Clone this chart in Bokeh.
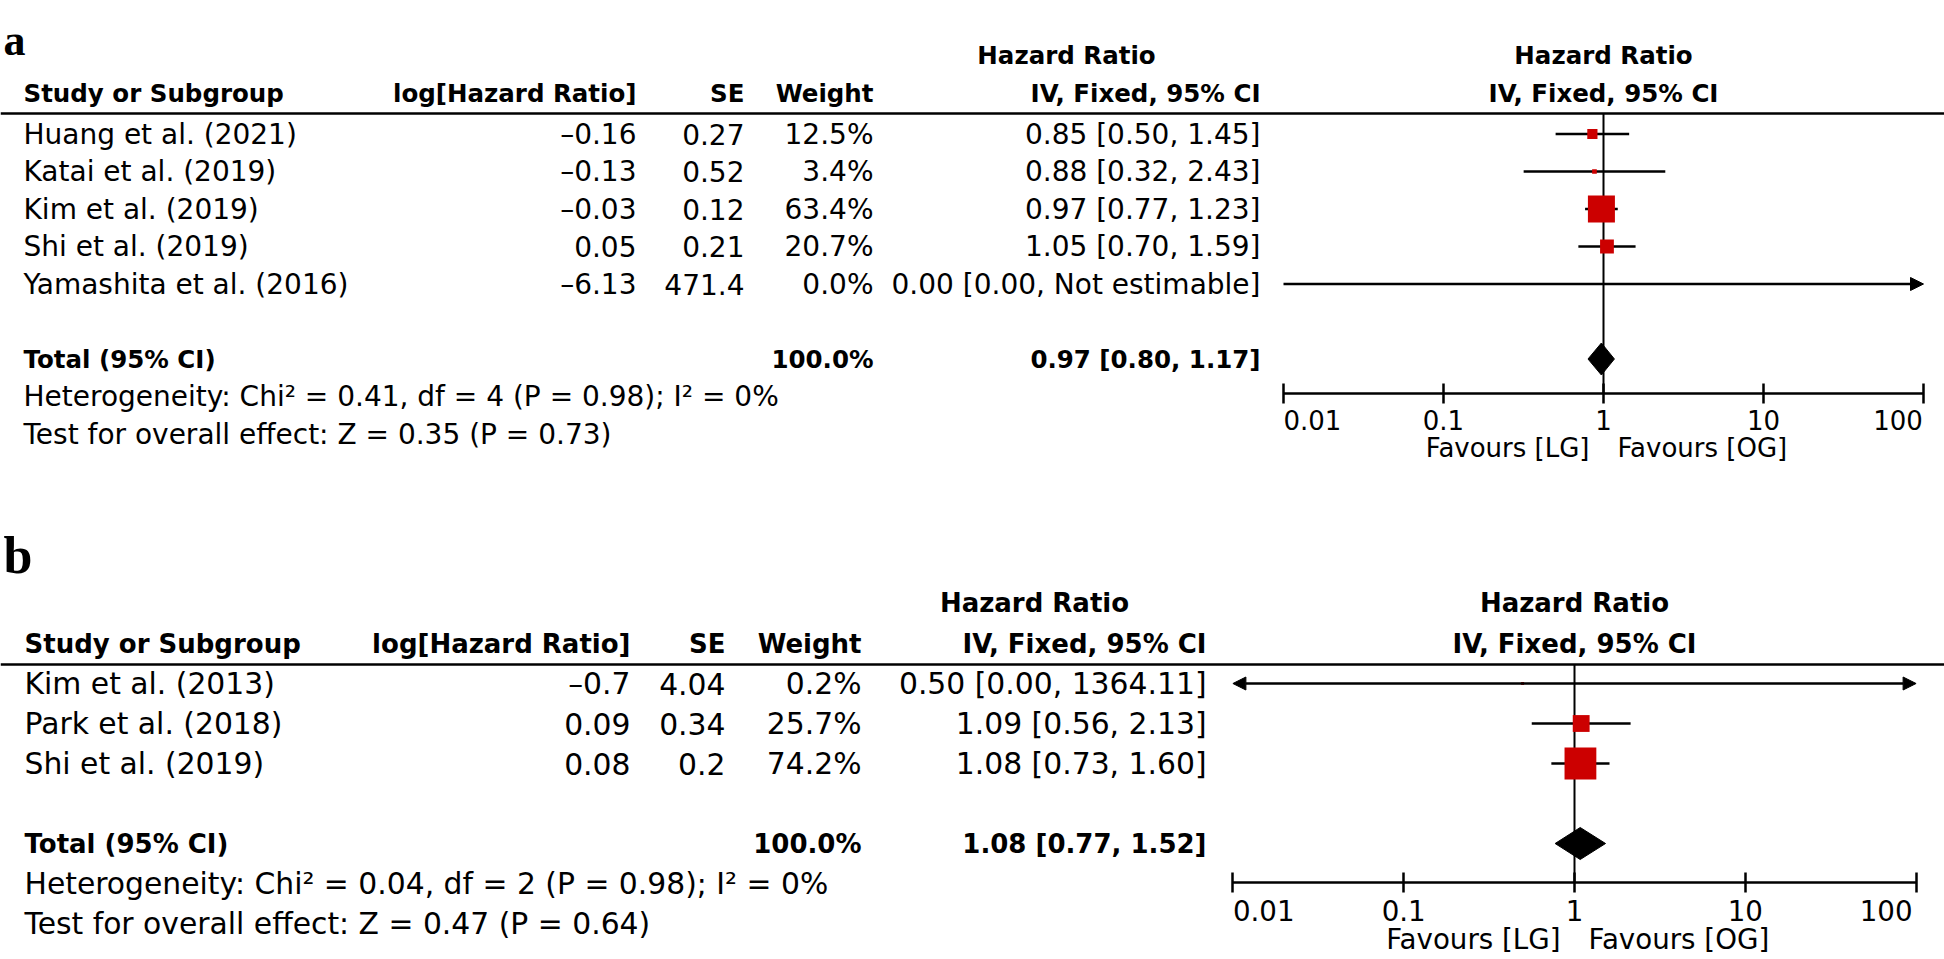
import numpy as np
from bokeh.plotting import figure
from bokeh.models import (Range1d, LogScale, LogAxis, FixedTicker, CustomJSTickFormatter,
                          Arrow, NormalHead, ColumnDataSource)
from bokeh.embed import file_html
from bokeh.resources import INLINE
from bokeh.core.properties import value

# ---------------- data: panel a ----------------
studies_a = ["Huang et al. (2021)", "Katai et al. (2019)", "Kim et al. (2019)",
             "Shi et al. (2019)", "Yamashita et al. (2016)"]
log_hr_a = [-0.16, -0.13, -0.03, 0.05, -6.13]
se_a = [0.27, 0.52, 0.12, 0.21, 471.4]
weight_a = [12.5, 3.4, 63.4, 20.7, 0.0]
hr_text_a = ["0.85 [0.50, 1.45]", "0.88 [0.32, 2.43]", "0.97 [0.77, 1.23]",
             "1.05 [0.70, 1.59]", "0.00 [0.00, Not estimable]"]
total_a = [0.97, 0.80, 1.17]          # estimate, lower, upper
total_weight_a = 100.0
het_a = "Heterogeneity: Chi² = 0.41, df = 4 (P = 0.98); I² = 0%"
effect_a = "Test for overall effect: Z = 0.35 (P = 0.73)"

# ---------------- data: panel b ----------------
studies_b = ["Kim et al. (2013)", "Park et al. (2018)", "Shi et al. (2019)"]
log_hr_b = [-0.7, 0.09, 0.08]
se_b = [4.04, 0.34, 0.2]
weight_b = [0.2, 25.7, 74.2]
hr_text_b = ["0.50 [0.00, 1364.11]", "1.09 [0.56, 2.13]", "1.08 [0.73, 1.60]"]
total_b = [1.08, 0.77, 1.52]
total_weight_b = 100.0
het_b = "Heterogeneity: Chi² = 0.04, df = 2 (P = 0.98); I² = 0%"
effect_b = "Test for overall effect: Z = 0.47 (P = 0.64)"

# ---------------- shared labels ----------------
col_headers = ["Study or Subgroup", "log[Hazard Ratio]", "SE", "Weight", "IV, Fixed, 95% CI"]
group_header = "Hazard Ratio"
total_label = "Total (95% CI)"
tick_values = [0.01, 0.1, 1, 10, 100]
tick_labels = ["0.01", "0.1", "1", "10", "100"]
favours = ["Favours [LG]", "Favours [OG]"]
panel_letters = ["a", "b"]

FONT = "DejaVu Sans"
RED = "#cc0000"
W, H = 1944, 959
X0, X1 = 0, W
Y0, Y1 = 0, H

p = figure(width=W, height=H, output_backend="svg", toolbar_location=None,
           x_range=Range1d(X0, X1), y_range=Range1d(Y1, Y0),
           x_axis_location=None, y_axis_location=None, min_border=0,
           outline_line_color=None, background_fill_color="white",
           border_fill_color="white")
p.grid.visible = False

# layout (positions / sizes only, in page pixels)
LAY_A = dict(one_x=1603, dec=160.0, row0=133.5, sp=37.5, fs=28, fs_b=24.5, fs_ax=26,
             col_study=23, col_lhr=636, col_se=744, col_w=873, col_hr=1260, hr_head_c=1066,
             head1_y=55, head2_y=93, line_y=113, axis_y=393, fav_y=447,
             letter_xy=(3, 40), letter_fs=44, diamond_half=16, box_k=2.24,
             pad_left="\u2007\u2007\u2008\u2007", pad_right="\u2007\u2009")
LAY_B = dict(one_x=1574, dec=170.8, row0=683, sp=40.0, fs=29.8, fs_b=26, fs_ax=27.7,
             col_study=24, col_lhr=630, col_se=725, col_w=861, col_hr=1206, hr_head_c=1034,
             head1_y=602, head2_y=643, line_y=664, axis_y=882, fav_y=939,
             letter_xy=(3, 555), letter_fs=52, diamond_half=16, box_k=2.4,
             pad_left="\u2007\u2007\u2008\u2007", pad_right="\u2007\u2008\u2009")


def fmt_num(v):
    return ("%g" % v).replace("-", "\u2013")


def draw_panel(tag, letter, studies, log_hr, se, weight, hr_text, total, total_w,
               het, effect, L):
    hr_name, row_name = "hr_" + tag, "rows_" + tag
    p.extra_x_ranges = {**p.extra_x_ranges,
                        hr_name: Range1d(10 ** ((X0 - L["one_x"]) / L["dec"]),
                                         10 ** ((X1 - L["one_x"]) / L["dec"]))}
    p.extra_x_scales = {**p.extra_x_scales, hr_name: LogScale()}
    p.extra_y_ranges = {**p.extra_y_ranges,
                        row_name: Range1d((Y1 - L["row0"]) / L["sp"], (Y0 - L["row0"]) / L["sp"])}

    tk = dict(text_font=value(FONT), text_font_size="%.1fpx" % L["fs"], text_color="black",
              text_baseline="middle")
    bk = dict(text_font=value(FONT), text_font_size="%.1fpx" % L["fs_b"], text_color="black",
              text_baseline="middle", text_font_style="bold")
    ak = dict(text_font=value(FONT), text_font_size="%.1fpx" % L["fs_ax"], text_color="black",
              text_baseline="middle")
    n = len(studies)
    rows = list(range(n))
    total_row = n + 1

    # panel letter
    p.text(x=[L["letter_xy"][0]], y=[L["letter_xy"][1]], text=[letter],
           text_font=value("Liberation Serif"), text_font_style="bold",
           text_font_size="%dpx" % L["letter_fs"], text_baseline="alphabetic",
           text_align="left", text_color="black")

    # headers
    p.text(x=[L["hr_head_c"]], y=[L["head1_y"]], text=[group_header], text_align="center", **bk)
    p.text(x=[1], y=[L["head1_y"]], text=[group_header], text_align="center",
           x_range_name=hr_name, **bk)
    p.text(x=[L["col_study"]], y=[L["head2_y"]], text=[col_headers[0]], text_align="left", **bk)
    p.text(x=[L["col_lhr"], L["col_se"], L["col_w"], L["col_hr"]], y=[L["head2_y"]] * 4,
           text=col_headers[1:], text_align="right", **bk)
    p.text(x=[1], y=[L["head2_y"]], text=[col_headers[4]], text_align="center",
           x_range_name=hr_name, **bk)
    p.segment(x0=[X0], x1=[X1], y0=[L["line_y"]], y1=[L["line_y"]],
              line_color="black", line_width=2.5)

    # study rows
    p.text(x=[L["col_study"]] * n, y=rows, text=studies, text_align="left",
           y_range_name=row_name, **tk)
    p.text(x=[L["col_lhr"]] * n, y=rows, text=[fmt_num(v) for v in log_hr],
           text_align="right", y_range_name=row_name, **tk)
    p.text(x=[L["col_se"]] * n, y=rows, text=[fmt_num(v) for v in se],
           text_align="right", y_range_name=row_name, **tk)
    p.text(x=[L["col_w"]] * n, y=rows, text=["%.1f%%" % w for w in weight],
           text_align="right", y_range_name=row_name, **tk)
    p.text(x=[L["col_hr"]] * n, y=rows, text=hr_text, text_align="right",
           y_range_name=row_name, **tk)

    # total + statistics rows
    p.text(x=[L["col_study"]], y=[total_row], text=[total_label], text_align="left",
           y_range_name=row_name, **bk)
    p.text(x=[L["col_w"]], y=[total_row], text=["%.1f%%" % total_w], text_align="right",
           y_range_name=row_name, **bk)
    p.text(x=[L["col_hr"]], y=[total_row],
           text=["%.2f [%.2f, %.2f]" % tuple(total)], text_align="right",
           y_range_name=row_name, **bk)
    p.text(x=[L["col_study"]] * 2, y=[total_row + 1, total_row + 2], text=[het, effect],
           text_align="left", y_range_name=row_name, **tk)

    # null-effect line
    p.segment(x0=[1], x1=[1], y0=[L["line_y"]], y1=[L["axis_y"]], x_range_name=hr_name,
              line_color="black", line_width=2)

    # confidence intervals
    lh = np.array(log_hr, dtype=float)
    s = np.array(se, dtype=float)
    with np.errstate(over="ignore", under="ignore"):
        est = np.exp(lh)
        lo = np.exp(lh - 1.96 * s)
        hi = np.exp(lh + 1.96 * s)
    lo_lim, hi_lim = tick_values[0], tick_values[-1]
    lo_c = np.clip(lo, lo_lim, hi_lim)
    hi_c = np.clip(hi, lo_lim, hi_lim)
    left_arrow = (lo > 0) & (lo < lo_lim)
    right_arrow = hi > hi_lim
    plain = ~(left_arrow | right_arrow)
    rows_arr = np.array(rows)
    if plain.any():
        p.segment(x0=lo_c[plain], x1=hi_c[plain], y0=rows_arr[plain], y1=rows_arr[plain],
                  x_range_name=hr_name, y_range_name=row_name,
                  line_color="black", line_width=2.5)
    for la in (False, True):
        for ra in (False, True):
            m = (left_arrow == la) & (right_arrow == ra) & ~plain
            if not m.any():
                continue
            src = ColumnDataSource(dict(x0=lo_c[m], x1=hi_c[m], y=rows_arr[m]))

            def head():
                return NormalHead(size=13, fill_color="black", line_color="black",
                                  line_width=1)
            p.add_layout(Arrow(start=head() if la else None, end=head() if ra else None,
                               x_start="x0", y_start="y", x_end="x1", y_end="y",
                               source=src, x_range_name=hr_name, y_range_name=row_name,
                               line_color="black", line_width=2.5))

    # weight boxes
    w = np.array(weight, dtype=float)
    show = (w > 0) & (est >= lo_lim) & (est <= hi_lim)
    sizes = np.maximum(L["box_k"] * w ** 0.6, 3.0)
    p.scatter(x=est[show], y=rows_arr[show], size=sizes[show], marker="square",
              fill_color=RED, line_color=None, x_range_name=hr_name, y_range_name=row_name)

    # pooled diamond
    e, dl, dh = total
    hh = L["diamond_half"] / L["sp"]
    p.patch(x=[dl, e, dh, e], y=[total_row, total_row - hh, total_row, total_row + hh],
            fill_color="black", line_color="black", x_range_name=hr_name,
            y_range_name=row_name)

    # log axis (outer labels padded so they sit inside the axis ends)
    shown = list(tick_labels)
    shown[0] = L["pad_left"] + shown[0]
    shown[-1] = shown[-1] + L["pad_right"]
    fmt = CustomJSTickFormatter(args=dict(vals=tick_values, labels=shown), code="""
        for (let i = 0; i < vals.length; i++) {
            if (Math.abs(Math.log10(vals[i]) - Math.log10(tick)) < 1e-6) return labels[i];
        }
        return "";
    """)
    ax = LogAxis(x_range_name=hr_name, fixed_location=L["axis_y"],
                 bounds=(tick_values[0], tick_values[-1]),
                 ticker=FixedTicker(ticks=tick_values), formatter=fmt,
                 axis_line_width=2.5, axis_line_color="black",
                 major_tick_line_width=2.5, major_tick_line_color="black",
                 major_tick_in=10, major_tick_out=10, minor_tick_in=0, minor_tick_out=0,
                 major_label_standoff=2, major_label_text_font=FONT,
                 major_label_text_font_size="%.1fpx" % L["fs_ax"],
                 major_label_text_color="black")
    p.add_layout(ax, "below")

    # favours labels
    p.text(x=[1], y=[L["fav_y"]], text=[favours[0]], text_align="right", x_offset=-14,
           x_range_name=hr_name, **ak)
    p.text(x=[1], y=[L["fav_y"]], text=[favours[1]], text_align="left", x_offset=14,
           x_range_name=hr_name, **ak)


draw_panel("a", panel_letters[0], studies_a, log_hr_a, se_a, weight_a, hr_text_a, total_a,
           total_weight_a, het_a, effect_a, LAY_A)
draw_panel("b", panel_letters[1], studies_b, log_hr_b, se_b, weight_b, hr_text_b, total_b,
           total_weight_b, het_b, effect_b, LAY_B)

open("out.html", "w").write(file_html(p, INLINE))
